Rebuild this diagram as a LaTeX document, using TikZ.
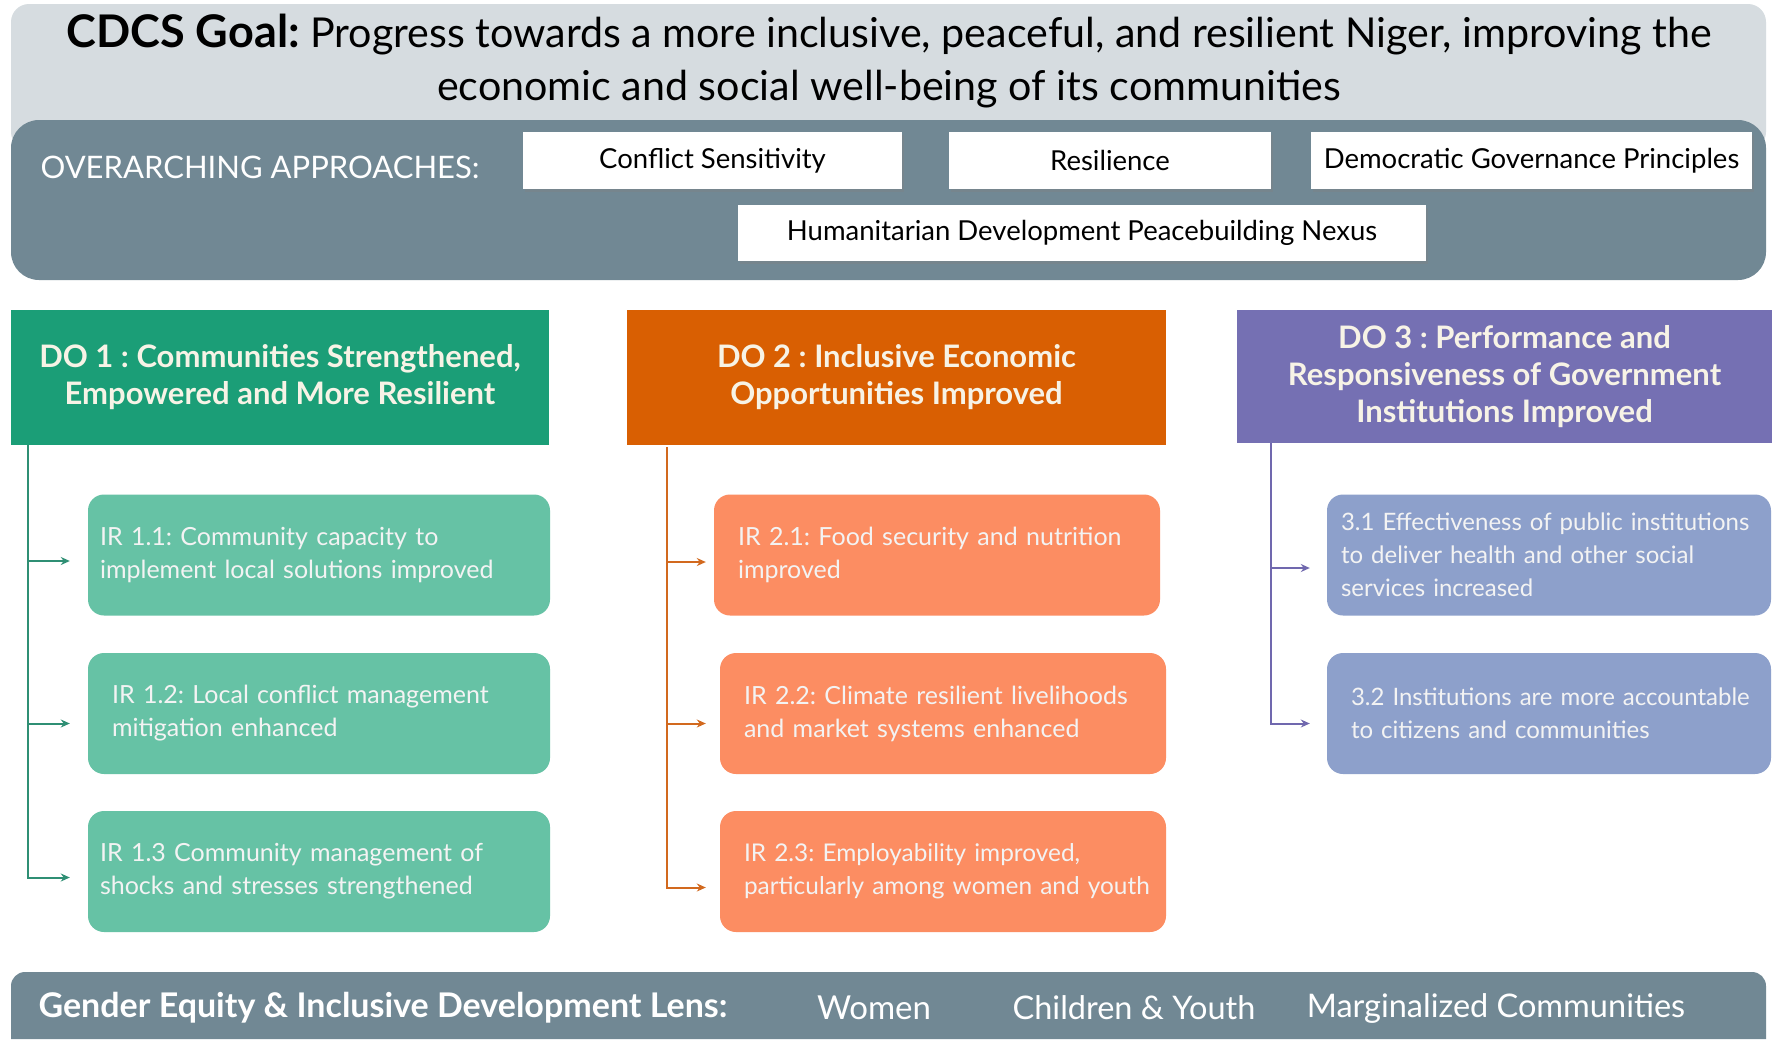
\documentclass[tikz,border=0pt]{standalone}
\usepackage{fontspec}
\setmainfont{Lato}
\usetikzlibrary{shadows,arrows.meta,calc}
\definecolor{goalbg}{HTML}{D6DCE0}
\definecolor{slate}{HTML}{718894}
\definecolor{doA}{HTML}{1B9E77}
\definecolor{doB}{HTML}{D95F02}
\definecolor{doC}{HTML}{7570B3}
\definecolor{irA}{HTML}{66C2A5}
\definecolor{irB}{HTML}{FC8D62}
\definecolor{irC}{HTML}{8DA0CB}
\definecolor{lnAc}{HTML}{2F8F74}
\definecolor{lnBc}{HTML}{D2691E}
\definecolor{lnCc}{HTML}{7068AE}
\definecolor{dotxt}{HTML}{F7F3E6}
\definecolor{irtxt}{HTML}{F3F3F3}
\newcommand{\ip}[1]{\hspace*{#1}}
\begin{document}
\frenchspacing
\begin{tikzpicture}[x=1pt,y=-1pt,
  apbox/.style={fill=white, inner sep=0pt, minimum height=57pt, text=black,
    font=\frenchspacing\fontsize{27.5}{32}\selectfont,
    drop shadow={shadow xshift=2pt,shadow yshift=-3pt,opacity=0.35}},
  dobox/.style={fill=#1, inner sep=0pt, minimum height=135pt, text=dotxt,
    font=\frenchspacing\bfseries\fontsize{31}{37}\selectfont, align=center},
  irbox/.style={fill=#1, rounded corners=16pt, minimum height=121pt, text=irtxt,
    inner xsep=0pt, align=left, font=\frenchspacing\fontsize{25}{33}\selectfont},
  ar/.style={draw=#1, line width=2pt, -{Stealth[length=9pt,width=8pt]}},
  bartxt/.style={text=white, font=\fontsize{32.5}{36}\selectfont, inner sep=0pt}
]
\useasboundingbox (0,0) rectangle (1772,1039);
\fill[white] (0,0) rectangle (1772,1039);

% goal
\fill[goalbg, rounded corners=18pt] (11,4) rectangle (1766,150);
\node[align=center, text=black, font=\frenchspacing\fontsize{41.2}{53}\selectfont] (goal) at (889,61)
  {{\bfseries\fontsize{45}{53}\selectfont CDCS Goal:} Progress towards a more inclusive, peaceful, and resilient Niger, improving the\\
   economic and social well-being of its communities};

% overarching approaches
\fill[slate, rounded corners=28pt] (11,120) rectangle (1766,280);
\node[text=white, font=\fontsize{31}{34}\selectfont, inner sep=0pt] (oa) at (260,167) {OVERARCHING APPROACHES:};
\node[apbox, minimum width=379pt] (cs) at (712.5,160.5) {Conflict Sensitivity};
\node[apbox, minimum width=322pt] (res) at (1110,160.5) {Resilience};
\node[apbox, minimum width=441pt] (dem) at (1531.5,160.5) {Democratic Governance Principles};
\node[apbox, minimum width=688pt, minimum height=56pt] (hdp) at (1082,233) {Humanitarian Development Peacebuilding Nexus};

% DO boxes
\node[dobox=doA, minimum width=538pt] (DO1) at (280,377.5)
  {DO 1 : Communities Strengthened,\\ Empowered and More Resilient};
\node[dobox=doB, minimum width=539pt] (DO2) at (896.5,377.5)
  {DO 2 : Inclusive Economic\\ Opportunities Improved};
\node[dobox=doC, minimum width=535pt, minimum height=133pt] (DO3) at (1504.5,376.5)
  {DO 3 : Performance and\\ Responsiveness of Government\\ Institutions Improved};

% IR boxes
\node[irbox=irA, text width=462pt] (IR11) at (319,555)
  {\ip{12pt}IR 1.1: Community capacity to\\\ip{12pt}implement local solutions improved};
\node[irbox=irA, text width=462pt] (IR12) at (319,713.5)
  {\ip{24pt}IR 1.2: Local conflict management\\\ip{24pt}mitigation enhanced};
\node[irbox=irA, text width=462pt] (IR13) at (319,871.5)
  {\ip{12pt}IR 1.3 Community management of\\\ip{12pt}shocks and stresses strengthened};

\node[irbox=irB, text width=446pt] (IR21) at (937,555)
  {\ip{24pt}IR 2.1: Food security and nutrition\\\ip{24pt}improved};
\node[irbox=irB, text width=446pt] (IR22) at (943,713.5)
  {\ip{24pt}IR 2.2: Climate resilient livelihoods\\\ip{24pt}and market systems enhanced};
\node[irbox=irB, text width=446pt, font=\frenchspacing\fontsize{24.4}{33}\selectfont] (IR23) at (943,871.5)
  {\ip{24pt}IR 2.3: Employability improved,\\\ip{24pt}particularly among women and youth};

\node[irbox=irC, text width=444pt, font=\frenchspacing\fontsize{24}{33}\selectfont] (IR31) at (1549,555)
  {\ip{14pt}3.1 Effectiveness of public institutions\\\ip{14pt}to deliver health and other social\\\ip{14pt}services increased};
\node[irbox=irC, text width=444pt, font=\frenchspacing\fontsize{24}{33}\selectfont] (IR32) at (1549,713.5)
  {\ip{24pt}3.2 Institutions are more accountable\\\ip{24pt}to citizens and communities};

% connectors DO1
\coordinate (tA) at ($(DO1.south west)+(17,0)$);
\coordinate (a11) at ($(IR11.west)+(-18,6)$);
\coordinate (a12) at ($(IR12.west)+(-18,10)$);
\coordinate (a13) at ($(IR13.west)+(-18,6)$);
\draw[ar=lnAc] (tA) |- (a13);
\draw[ar=lnAc] (tA |- a11) -- (a11);
\draw[ar=lnAc] (tA |- a12) -- (a12);

% connectors DO2
\coordinate (tB) at ($(DO2.south west)+(40,2)$);
\coordinate (a21) at ($(IR21.west)+(-8,7)$);
\coordinate (a22) at ($(IR22.west)+(-14,10)$);
\coordinate (a23) at ($(IR23.west)+(-14,16)$);
\draw[ar=lnBc] (tB) |- (a23);
\draw[ar=lnBc] (tB |- a21) -- (a21);
\draw[ar=lnBc] (tB |- a22) -- (a22);

% connectors DO3
\coordinate (tC) at ($(DO3.south west)+(34,0)$);
\coordinate (a31) at ($(IR31.west)+(-17,13)$);
\coordinate (a32) at ($(IR32.west)+(-17,10)$);
\draw[ar=lnCc] (tC) |- (a32);
\draw[ar=lnCc] (tC |- a31) -- (a31);

% bottom bar
\fill[slate, rounded corners=14pt] (11,1039) -- (11,972) -- (1766,972) -- (1766,1039);
\node[bartxt, font=\frenchspacing\bfseries\fontsize{34}{38}\selectfont] (lens) at (383,1008) {Gender Equity \& Inclusive Development Lens:};
\node[bartxt, font=\fontsize{33}{36}\selectfont] (women) at (874,1008) {Women};
\node[bartxt] (cy) at (1134,1008) {Children \& Youth};
\node[bartxt] (mc) at (1496,1008) {Marginalized Communities};
\end{tikzpicture}
\end{document}
